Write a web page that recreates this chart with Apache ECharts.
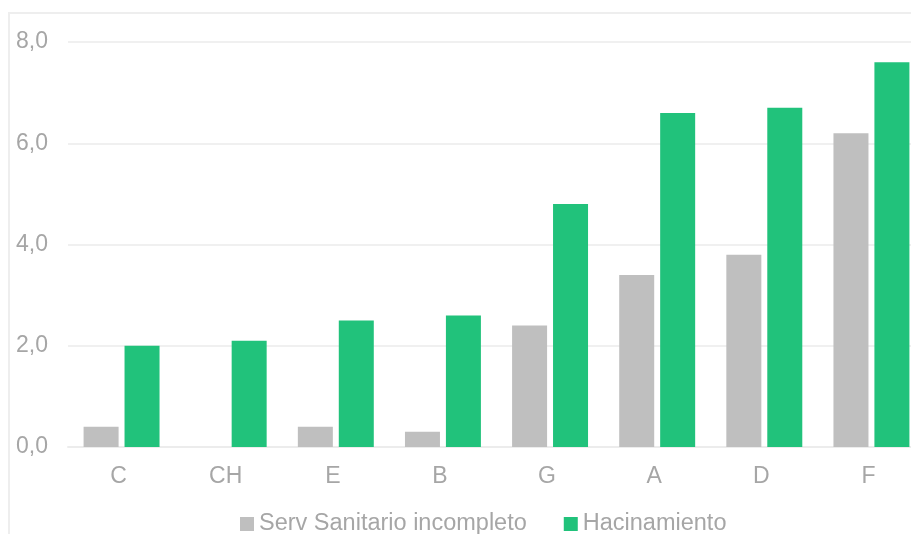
<!DOCTYPE html>
<html>
<head>
<meta charset="utf-8">
<style>
  html, body { margin: 0; padding: 0; background: #fff; overflow: hidden; }
  #chart { width: 940px; height: 534px; }
</style>
<script src="https://cdn.jsdelivr.net/npm/echarts@6/dist/echarts.min.js"></script>
</head>
<body>
<div id="chart"></div>
<script>
// Regions, sorted by overcrowding
const categories = ['C', 'CH', 'E', 'B', 'G', 'A', 'D', 'F'];
const servSanitario = [0.4, 0.0, 0.4, 0.3, 2.4, 3.4, 3.8, 6.2];
const hacinamiento = [2.0, 2.1, 2.5, 2.6, 4.8, 6.6, 6.7, 7.6];
const seriesNames = ['Serv Sanitario incompleto', 'Hacinamiento'];

const textColor = '#a6a6a6';
const font = 'Liberation Sans, Arial, sans-serif';
const fontSize = 23;

const chart = echarts.init(document.getElementById('chart'), null, { renderer: 'canvas' });

chart.setOption({
  animation: false,
  backgroundColor: '#ffffff',
  graphic: [{
    type: 'rect',
    shape: { x: 9, y: 13, width: 1000, height: 600 },
    style: { fill: 'none', stroke: '#eeeeee', lineWidth: 2 },
    silent: true,
    z: -1
  }],
  // plot area runs past the right edge of the visible page
  grid: { left: 68, top: 42, width: 857, bottom: 87, containLabel: false },
  legend: {
    data: seriesNames,
    top: 507,
    left: 235,
    itemWidth: 14,
    itemHeight: 14,
    itemGap: 37,
    icon: 'rect',
    textStyle: { color: textColor, fontSize: 23.5, fontFamily: font }
  },
  xAxis: {
    type: 'category',
    data: categories,
    axisLine: { lineStyle: { color: '#ececec', width: 2 } },
    axisTick: { show: false },
    axisLabel: {
      color: textColor, fontSize: fontSize, fontFamily: font, margin: 18,
      padding: [0, 6, 0, 0]
    }
  },
  yAxis: {
    type: 'value',
    min: 0,
    max: 8,
    interval: 2,
    axisLine: { show: false },
    axisTick: { show: false },
    splitLine: { lineStyle: { color: '#f0f0f0', width: 2 } },
    axisLabel: {
      color: textColor, fontSize: fontSize, fontFamily: font, margin: 20,
      formatter: v => v.toFixed(1).replace('.', ',')
    }
  },
  series: [
    {
      name: seriesNames[0],
      type: 'bar',
      data: servSanitario,
      barWidth: 35,
      barGap: '17%',
      itemStyle: { color: '#bfbfbf' }
    },
    {
      name: seriesNames[1],
      type: 'bar',
      data: hacinamiento,
      barWidth: 35,
      itemStyle: { color: '#21c27b' }
    }
  ]
});
</script>
</body>
</html>
